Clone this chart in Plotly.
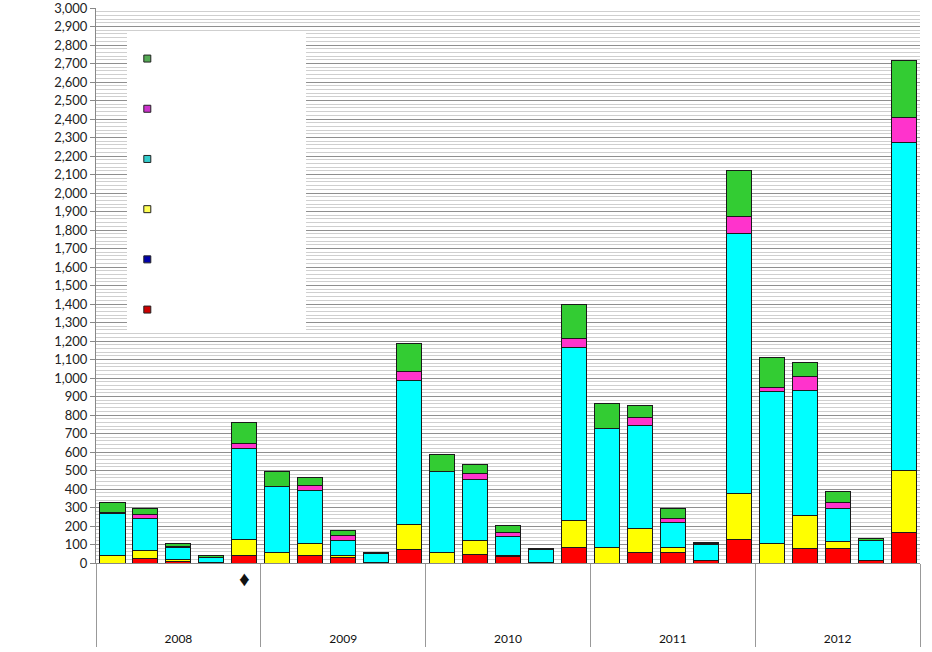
import plotly.graph_objects as go

years = ["2008", "2009", "2010", "2011", "2012"]
inner_labels = ["\u00a0", "\u00a0\u00a0", "\u00a0\u00a0\u00a0", "\u00a0\u00a0\u00a0\u00a0", "\u00a0\u00a0\u00a0\u00a0\u00a0"]
marker_label = "<span style='font-size:21px'>\u2666</span><br>\u00a0<br>\u00a0"   # label under the 2008 fifth bar

red     = [0, 22, 7, 2, 40,    0, 38, 28, 5, 74,    0, 45, 33, 4, 83,    0, 58, 55, 12, 126,   0, 80, 77, 12, 165]
blue    = [0, 0, 0, 0, 0,      0, 0, 0, 0, 0,       0, 0, 0, 0, 0,       0, 0, 0, 0, 0,        0, 0, 0, 0, 0]
yellow  = [38, 43, 10, 0, 88,  55, 66, 10, 0, 135,  56, 75, 10, 0, 148,  82, 129, 30, 0, 248,  108, 175, 40, 0, 335]
cyan    = [232, 178, 65, 28, 492, 357, 290, 86, 47, 780, 436, 334, 100, 70, 933, 643, 554, 132, 90, 1407, 820, 680, 175, 108, 1775]
magenta = [3, 17, 5, 2, 25,    3, 25, 26, 0, 47,    3, 29, 23, 4, 51,    3, 45, 25, 5, 90,     20, 72, 35, 3, 135]
green   = [52, 33, 21, 8, 115, 80, 45, 25, 3, 152,  94, 48, 38, 3, 183,  135, 63, 51, 5, 248,  164, 79, 57, 12, 305]

outer = [f"<span style='font-size:12px'>{y}</span>" for y in years for _ in range(5)]
inner = []
for y in years:
    for i, lab in enumerate(inner_labels):
        if y == "2008" and i == 4:
            inner.append(marker_label)
        else:
            inner.append(lab)
x = [outer, inner]

series = [
    ("red", red, "#FF0000", "#CC0000"),
    ("blue", blue, "#0000CC", "#0000AA"),
    ("yellow", yellow, "#FFFF00", "#FFFF55"),
    ("cyan", cyan, "#00FFFF", "#33CCCC"),
    ("magenta", magenta, "#FF33CC", "#CC33CC"),
    ("green", green, "#33CC33", "#55AA55"),
]

fig = go.Figure()
for name, vals, col, _ in series:
    fig.add_trace(go.Bar(x=x, y=vals, name=name, marker=dict(color=col, line=dict(color="#1a1a1a", width=1)),
                         showlegend=False, hoverinfo="y"))

# legend entries (no text), top to bottom: green, magenta, cyan, yellow, blue, red
for i, (name, vals, col, lcol) in enumerate(reversed(series)):
    fig.add_trace(go.Scatter(x=[None], y=[None], mode="markers", name="\u00a0",
                             legendgroup=f"g{i}",
                             marker=dict(symbol="square", size=7, color=lcol, line=dict(color="#222", width=1)),
                             showlegend=True))

fig.add_shape(type="rect", xref="paper", yref="paper", x0=0.0376, x1=0.2549, y0=0.4144, y1=0.955,
              fillcolor="white", line=dict(width=0), layer="above")

fig.update_layout(
    width=932, height=652,
    margin=dict(l=96, r=12, t=8, b=89),
    paper_bgcolor="white", plot_bgcolor="white",
    barmode="stack", bargap=0.24,
    font=dict(family="Lato, Open Sans, sans-serif", size=13, color="#222"),
    legend=dict(x=0.038, y=0.937, xanchor="left", yanchor="top", bgcolor="rgba(0,0,0,0)",
                tracegroupgap=29, font=dict(size=14), traceorder="grouped"),
    yaxis=dict(range=[0, 3000], dtick=100, tick0=0, tickformat=",", showgrid=True, gridcolor="#8f8f8f", gridwidth=1,
               minor=dict(dtick=20, showgrid=True, gridcolor="#cfcfcf", gridwidth=1),
               ticks="outside", ticklen=5, tickcolor="#888", showline=True, linecolor="#888", linewidth=1,
               zeroline=False, tickfont=dict(size=13, color="#222"), ticklabeloverflow="allow",
               automargin=False),
    xaxis=dict(type="multicategory", showline=True, linecolor="#888", linewidth=1,
               showdividers=True, dividercolor="#999", dividerwidth=1, automargin=False,
               ticklabelstandoff=5,
               tickfont=dict(size=14, color="#111"), ticks=""),
)

fig.write_html("out.html", config={"displayModeBar": False},
               post_script="document.body.style.margin='0';")
